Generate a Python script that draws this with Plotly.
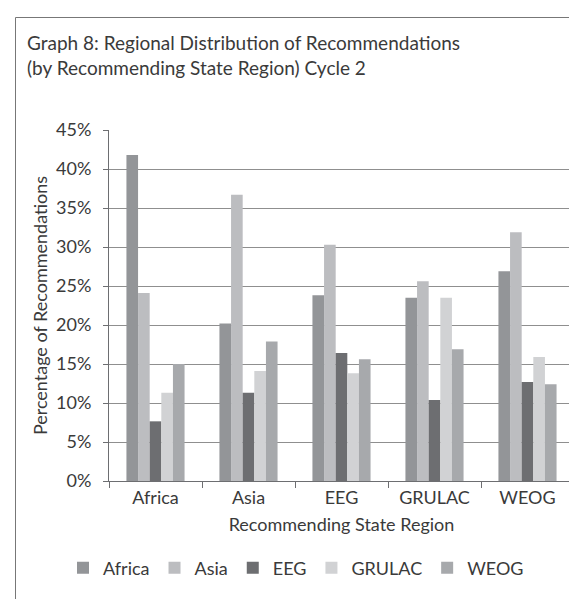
import plotly.graph_objects as go

categories = ["Africa", "Asia", "EEG", "GRULAC", "WEOG"]
series_names = ["Africa", "Asia", "EEG", "GRULAC", "WEOG"]
africa = [41.8, 20.2, 23.8, 23.5, 26.9]
asia = [24.1, 36.7, 30.3, 25.6, 31.9]
eeg = [7.65, 11.3, 16.4, 10.4, 12.7]
grulac = [11.3, 14.1, 13.8, 23.5, 15.9]
weog = [15.0, 17.9, 15.6, 16.9, 12.4]
y_ticks = [0, 5, 10, 15, 20, 25, 30, 35, 40, 45]
colors = ["#939598", "#bcbdc0", "#6d6e71", "#d1d2d4", "#a7a9ac"]

FONT = "Lato"
TXT = "#3a3a3a"
FS = 18

fig = go.Figure()
for name, vals, col in zip(series_names, [africa, asia, eeg, grulac, weog], colors):
    fig.add_trace(go.Bar(name=name, x=categories, y=vals, marker_color=col,
                         marker_line_width=0))

W, H = 577, 599
L, R, T, B = 101, 11, 122, 126
pw, ph = W - L - R, H - T - B

def px(x):
    return (x - L) / pw

def py(y):
    return (H - B - y) / ph

fig.update_layout(
    width=W, height=H,
    margin=dict(l=L, r=R, t=T, b=B),
    paper_bgcolor="white", plot_bgcolor="white",
    barmode="group", bargap=0.375, bargroupgap=0,
    font=dict(family=FONT, color=TXT, size=FS),
    title=dict(text="Graph 8: Regional Distribution of Recommendations<br>(by Recommending State Region) Cycle 2",
               x=19 / W, xanchor="left", xref="container",
               y=1 - 42 / H, yanchor="top", yref="container",
               pad=dict(l=0, r=0, t=0, b=0),
               font=dict(family=FONT, size=19, color=TXT)),
    showlegend=True,
    legend=dict(orientation="h", x=px(288), xanchor="center",
                y=py(560), yanchor="middle", font=dict(size=FS, color=TXT),
                itemwidth=30, traceorder="normal", tracegroupgap=0),
    xaxis=dict(showline=True, linecolor="#6d6e71", linewidth=1,
               ticks="outside", tickson="boundaries", ticklen=6, tickcolor="#6d6e71",
               tickfont=dict(size=FS, color=TXT),
               title=dict(text="Recommending State Region", font=dict(size=FS, color=TXT), standoff=11)),
    yaxis=dict(range=[0, 45], tickvals=y_ticks, ticktext=[f"{v}%" for v in y_ticks],
               showline=True, linecolor="#6d6e71", linewidth=1,
               ticks="outside", ticklen=5, tickcolor="#6d6e71",
               ticklabelstandoff=8,
               showgrid=True, gridcolor="#8f8f8f", gridwidth=1,
               tickfont=dict(size=FS, color=TXT),
               title=dict(text="Percentage of Recommendations", font=dict(size=FS, color=TXT), standoff=3)),
    shapes=[
        dict(type="line", xref="paper", yref="paper", x0=px(7.5), x1=px(577), y0=py(9.5), y1=py(9.5),
             line=dict(color="#777777", width=1)),
        dict(type="line", xref="paper", yref="paper", x0=px(7.5), x1=px(7.5), y0=py(9.5), y1=py(599),
             line=dict(color="#777777", width=1)),
    ],
)

fig.write_html("out.html")
